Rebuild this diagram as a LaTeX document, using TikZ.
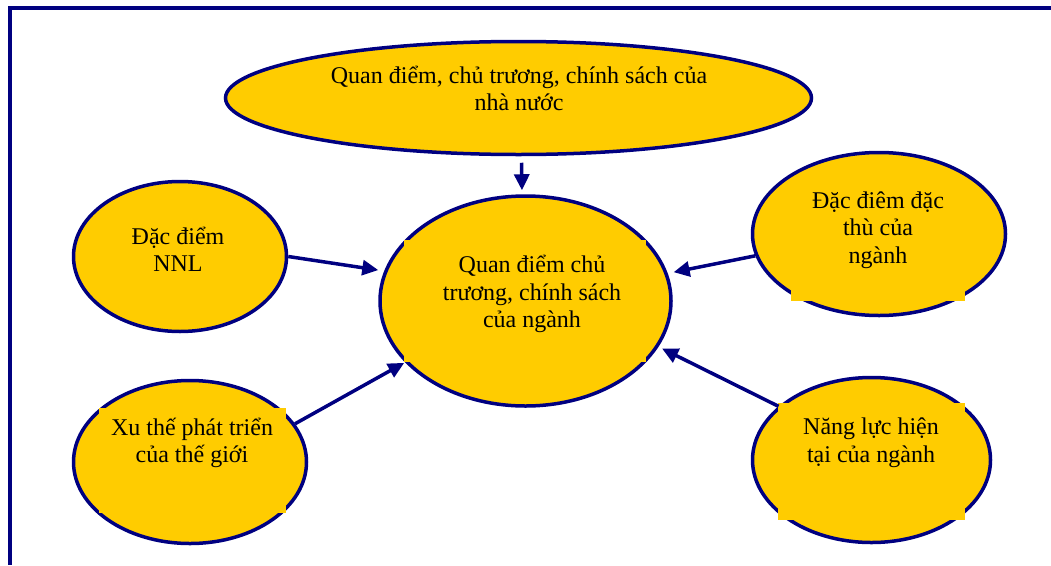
\documentclass[tikz,border=0pt]{standalone}
\usepackage{fontspec}
\setmainfont{Liberation Serif}
\usetikzlibrary{arrows.meta,shapes.geometric}
\definecolor{navy}{RGB}{0,0,128}
\definecolor{gold}{RGB}{255,204,0}
\begin{document}
\begin{tikzpicture}[x=1pt,y=-1pt,
  oval/.style={ellipse, draw=navy, fill=gold, line width=3.5pt, inner sep=0pt},
  caption/.style={align=center, font=\fontsize{24}{27.5}\selectfont, inner sep=0pt, text=black},
  textframe/.style={fill=gold},
  arr/.style={draw=navy, line width=3.5pt, -{Triangle[length=16pt,width=15pt]}},
  frame/.style={draw=navy, line width=3.5pt}]
\useasboundingbox (0,0) rectangle (1051,565);
% outer frame (open to the right and bottom)
\draw[frame] (1051,8) -- (10,8) -- (10,565);

% ovals
\node[oval, minimum width=586pt, minimum height=113pt] (top) at (518.5,98) {};
\node[oval, minimum width=291pt, minimum height=210pt] (ctr) at (525.5,301) {};
\node[oval, minimum width=213pt, minimum height=150pt] (nnl) at (180,256.5) {};
\node[oval, minimum width=253pt, minimum height=163pt] (rt) at (879,234) {};
\node[oval, minimum width=238pt, minimum height=165pt] (br) at (871.5,460) {};
\node[oval, minimum width=233pt, minimum height=163pt] (bl) at (190,462) {};

% text frames laid over the ovals
\fill[textframe] (791,185) rectangle (965,301);
\fill[textframe] (778,403) rectangle (965,520);
\fill[textframe] (99,408) rectangle (286,513);
\fill[textframe] (404,240) rectangle (646,362);

% labels
\node[caption] (toptxt) at (519,88.5) {Quan điểm, chủ trương, chính sách của\\nhà nước};
\node[caption] (ctrtxt) at (532,294) {Quan điểm chủ\\trương, chính sách\\của ngành};
\node[caption] (nnltxt) at (178,249.5) {Đặc điểm\\NNL};
\node[caption] (rttxt) at (878,230) {Đặc điêm đặc\\thù của\\ngành};
\node[caption] (brtxt) at (871,442.5) {Năng lực hiện\\tại của ngành};
\node[caption] (bltxt) at (192,443) {Xu thế phát triển\\của thế giới};

% arrows into the central oval
\draw[arr, shorten <=6.5pt, shorten >=4pt] ([xshift=3pt]top.south) -- ([xshift=-3.5pt]ctr.north);
\draw[arr, shorten >=6pt] (nnl.east) -- (ctr.168.3);
\draw[arr, shorten >=6pt] (rt.190) -- (ctr.11.5);
\draw[arr, shorten >=1pt] (bl.20) -- (ctr.207.7);
\draw[arr, shorten >=4pt] (br.150) -- (ctr.-19);
\end{tikzpicture}
\end{document}
